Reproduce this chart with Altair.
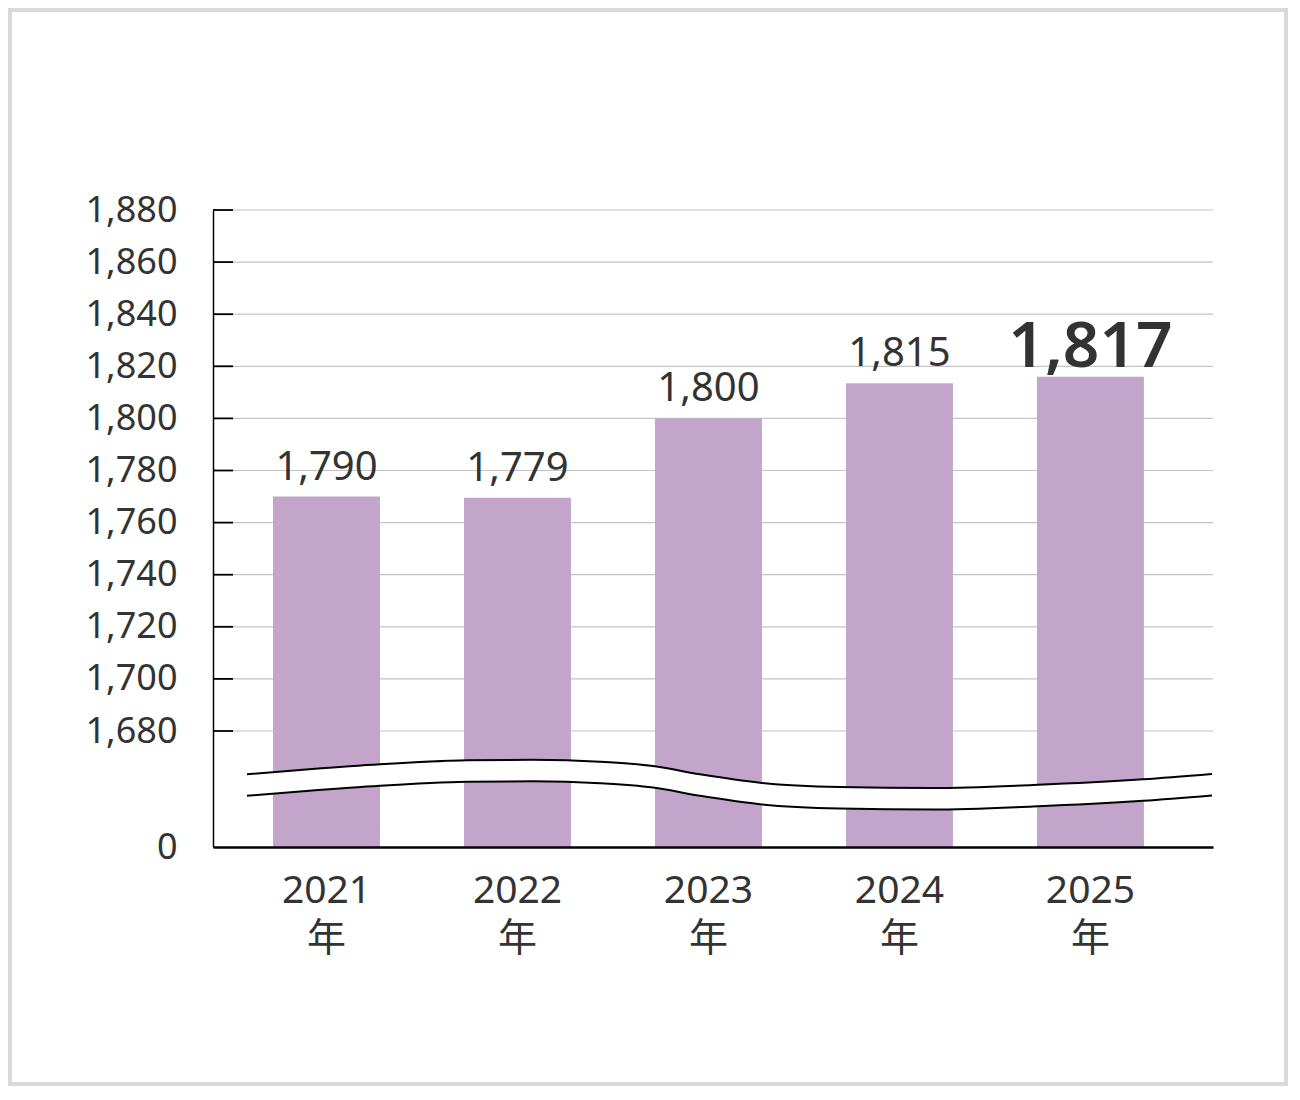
import altair as alt
import pandas as pd

FONT = "Noto Sans, Noto Sans CJK JP"
TEXT_COLOR = "#333333"
BAR_COLOR = "#c3a5cb"
W, H = 1000, 637

years = ["2021", "2022", "2023", "2024", "2025"]
labels = ["1,790", "1,779", "1,800", "1,815", "1,817"]
# bar tops as they are drawn in the picture
bar_tops = [1770, 1769.5, 1800, 1813.5, 1816]

y_ticks = [0, 1680, 1700, 1720, 1740, 1760, 1780, 1800, 1820, 1840, 1860, 1880]
grid_values = [1680, 1700, 1720, 1740, 1760, 1780, 1800, 1820, 1840, 1860, 1880]

# white "axis break" band: position along the plot (0-1000) and its edges in axis units
wave_pos = [34, 87, 167, 254, 320, 387, 440, 487, 547, 627, 720, 820, 930, 999]
wave_top = [1053, 1115, 1198, 1255, 1264, 1236, 1173, 1053, 931, 869, 854, 898, 980, 1057]
wave_bottom = [742, 804, 887, 944, 953, 925, 862, 742, 620, 558, 543, 587, 669, 746]

###############################################################################
y_scale = alt.Scale(domain=[0, 1680, 1880], range=[H, 521, 0], nice=False, zero=False)

data = pd.DataFrame({"year": years, "bar_top": bar_tops, "label": labels})

base = alt.Chart(data).encode(
    alt.X("year:N")
        .scale(paddingInner=0.44, paddingOuter=0.338, align=0.465)
        .axis(labelExpr="[datum.label, '年']", labelAngle=0, labelFont=FONT,
              labelFontSize=39, labelLineHeight=48, labelColor=TEXT_COLOR,
              labelPadding=24, ticks=False, domainColor="black", domainWidth=2.5,
              zindex=1)
        .title(None)
)

bars = base.mark_bar(color=BAR_COLOR).encode(
    alt.Y("bar_top:Q")
        .scale(y_scale)
        .axis(values=y_ticks, format=",d", grid=False, ticks=False,
              labelFont=FONT, labelFontSize=36, labelColor=TEXT_COLOR,
              labelPadding=36, labelBaseline="middle",
              domainColor="black", domainWidth=1.5, zindex=1)
        .title(None)
)

labels_small = base.transform_filter("datum.year != '2025'").mark_text(
    font=FONT, fontSize=40, color=TEXT_COLOR, baseline="alphabetic", dy=-17
).encode(alt.Y("bar_top:Q").scale(y_scale).title(None), text="label:N")

label_big = base.transform_filter("datum.year == '2025'").mark_text(
    font=FONT, fontSize=64, fontWeight=600, color=TEXT_COLOR, baseline="alphabetic", dy=-10
).encode(alt.Y("bar_top:Q").scale(y_scale).title(None), text="label:N")

grid = alt.Chart(pd.DataFrame({"v": grid_values})).mark_rule(
    color="#c4c4c4", strokeWidth=1.2
).encode(alt.Y("v:Q").scale(y_scale).title(None))

ticks = alt.Chart(pd.DataFrame({"v": grid_values})).mark_rule(
    color="black", strokeWidth=1.8
).encode(alt.Y("v:Q").scale(y_scale).title(None), x=alt.value(0), x2=alt.value(20))

frame = alt.Chart(pd.DataFrame({"f": [0]})).mark_rect(
    filled=False, stroke="#d9d9d9", strokeWidth=4
).encode(x=alt.value(-203), x2=alt.value(1073), y=alt.value(-200), y2=alt.value(874))

wave = alt.Chart(pd.DataFrame({"pos": wave_pos, "top": wave_top, "bottom": wave_bottom})).encode(
    alt.X("pos:Q").scale(domain=[0, 1000], nice=False, zero=False).axis(None)
)
wave_fill = wave.mark_area(color="white", interpolate="monotone").encode(
    alt.Y("top:Q").scale(y_scale).title(None), alt.Y2("bottom:Q")
)
wave_line1 = wave.mark_line(color="black", strokeWidth=2, interpolate="monotone").encode(
    alt.Y("top:Q").scale(y_scale).title(None)
)
wave_line2 = wave.mark_line(color="black", strokeWidth=2, interpolate="monotone").encode(
    alt.Y("bottom:Q").scale(y_scale).title(None)
)

bar_part = alt.layer(frame, grid, bars, ticks, labels_small, label_big)
wave_part = alt.layer(wave_fill, wave_line1, wave_line2)

chart = (
    alt.layer(bar_part, wave_part)
    .resolve_scale(x="independent")
    .properties(
        width=W, height=H,
        padding={"left": 205, "top": 202, "right": 75, "bottom": 239},
        autosize=alt.AutoSizeParams(type="none"),
        background="white",
    )
    .configure_view(strokeWidth=0)
)

chart.save("out.html", embed_options={"renderer": "svg", "actions": False})
